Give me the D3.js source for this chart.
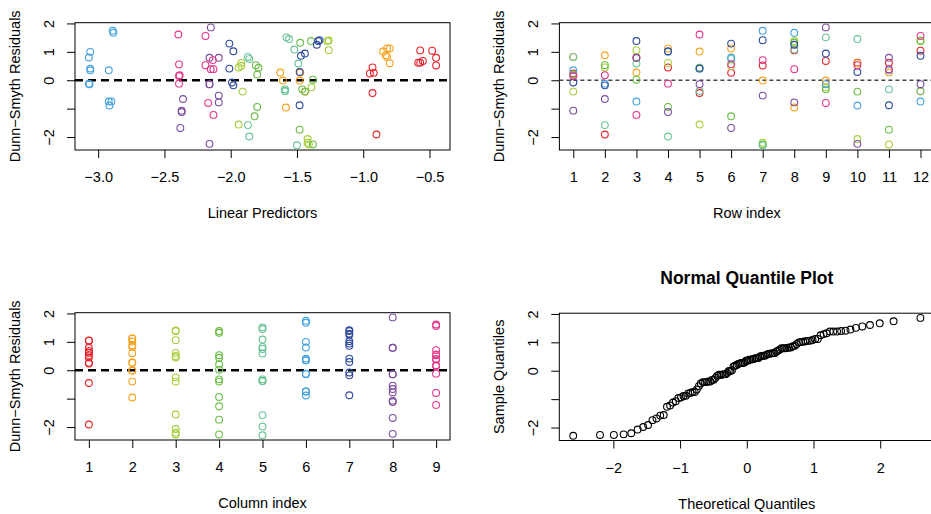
<!DOCTYPE html>
<html>
<head>
  <meta charset="utf-8">
  <title>Dunn-Smyth residual plots</title>
  <script src="https://d3js.org/d3.v7.min.js"></script>
  <style>
    body { margin: 0; background: #fff; }
    svg { font-family: "Liberation Sans", Arial, sans-serif; }
    .tick text { font-size: 14.5px; fill: #000; }
    .lab { font-size: 14.5px; }
  </style>
</head>
<body>
  <svg width="931" height="514"></svg>

  <script>
    // colours of the nine columns (species)
    const colours = ["#ea2229", "#f7a21d", "#a7ce39", "#6abd45", "#68c494",
                     "#45a2de", "#2f4a9d", "#7c4d9e", "#e6348b"];

    // Dunn-Smyth residuals, 12 rows x 9 columns
    const residuals = [
      [ 0.24,  0.82, -0.40,  0.20,  0.82,  0.35, -0.08, -1.07,  0.15],
      [-1.91,  0.88,  0.45,  0.53, -1.58, -0.12, -0.18, -0.66,  0.18],
      [ 0.79,  0.27,  1.06,  0.02,  0.59, -0.75,  1.38,  0.79, -1.22],
      [ 0.45,  1.12,  0.61, -0.94, -1.98,  1.00,  1.02, -1.12, -0.12],
      [-0.45,  1.01, -1.56,  0.44, -0.38,  0.41,  0.41, -0.14,  1.61],
      [ 0.26,  1.12,  0.50, -1.27,  0.75,  0.80,  1.29, -1.68,  0.56],
      [ 0.52, -0.01, -2.20, -2.26, -2.29,  1.74,  1.41, -0.54,  0.71],
      [ 1.05, -0.96,  1.38,  1.32,  1.08,  1.67,  1.25, -0.78,  0.39],
      [ 0.68, -0.01, -0.25, -0.32,  1.51, -0.14,  0.94,  1.86, -0.80],
      [ 0.62,  0.60, -2.07, -0.40,  1.45, -0.89,  0.29, -2.24,  0.53],
      [ 0.62,  0.27, -2.26, -1.74, -0.32,  0.35, -0.88,  0.79,  0.39],
      [ 1.04, -0.40,  1.40,  1.38, -0.38, -0.75,  0.86, -0.14,  1.56]
    ];

    // linear predictors, same layout
    const linPred = [
      [-0.95,  -0.82, -1.91, -1.80,  -1.87, -3.06,  -1.99, -2.37, -2.39],
      [-0.90,  -0.83, -1.94, -1.81,  -1.87, -3.07,  -1.98, -2.36, -2.385],
      [-0.45,  -1.626,-1.26, -1.38,  -1.49, -2.92,  -1.34, -2.16, -2.13],
      [-0.93,  -0.80, -1.92, -1.80,  -1.86, -3.06,  -1.98, -2.37, -2.39],
      [-0.93,  -0.85, -1.94, -1.79,  -1.59, -3.06,  -2.01, -2.16, -2.395],
      [-0.92,  -0.82, -1.92, -1.82,  -1.86, -3.07,  -2.01, -2.38, -2.39],
      [-0.45,  -1.606,-1.42, -1.38,  -1.50, -2.89,  -1.33, -2.09, -2.135],
      [-0.57,  -1.583,-1.27, -1.475, -1.52, -2.885, -1.35, -2.09, -2.15],
      [-0.55,  -1.48, -1.39, -1.46,  -1.58, -3.065, -1.44, -2.15, -2.17],
      [-0.585, -0.80, -1.42, -1.44,  -1.56, -2.915, -1.48, -2.16, -2.19],
      [-0.57,  -1.475,-1.41, -1.48,  -1.59, -2.92,  -1.48, -2.09, -2.13],
      [-0.48,  -1.437,-1.26, -1.394, -1.59, -2.90,  -1.47, -2.16, -2.19]
    ];

    const rowIndex = d3.range(1, 13);
    const colIndex = d3.range(1, 10);
    const yTicks = [-2, -1, 0, 1, 2];
    const lpTicks = [-3.0, -2.5, -2.0, -1.5, -1.0, -0.5];
    const qTicks = [-2, -1, 0, 1, 2];

    const svg = d3.select("svg");
    const pw = 375, ph = 127.3;

    // R style axis range: data extent plus 4% either side
    function rExpand(ext) {
      const d = (ext[1] - ext[0]) * 0.04;
      return [ext[0] - d, ext[1] + d];
    }

    // inverse normal cdf (Acklam)
    function qnorm(p) {
      const a = [-3.969683028665376e+01, 2.209460984245205e+02, -2.759285104469687e+02,
                 1.383577518672690e+02, -3.066479806614716e+01, 2.506628277459239e+00];
      const b = [-5.447609879822406e+01, 1.615858368580409e+02, -1.556989798598866e+02,
                 6.680131188771972e+01, -1.328068155288572e+01];
      const c = [-7.784894002430293e-03, -3.223964580411365e-01, -2.400758277161838e+00,
                 -2.549732539343734e+00, 4.374664141464968e+00, 2.938163982698783e+00];
      const d = [7.784695709041462e-03, 3.224671290700398e-01, 2.445134137142996e+00,
                 3.754408661907416e+00];
      const pl = 0.02425;
      let q, r;
      if (p < pl) {
        q = Math.sqrt(-2 * Math.log(p));
        return (((((c[0]*q+c[1])*q+c[2])*q+c[3])*q+c[4])*q+c[5]) /
               ((((d[0]*q+d[1])*q+d[2])*q+d[3])*q+1);
      }
      if (p <= 1 - pl) {
        q = p - 0.5; r = q * q;
        return (((((a[0]*r+a[1])*r+a[2])*r+a[3])*r+a[4])*r+a[5])*q /
               (((((b[0]*r+b[1])*r+b[2])*r+b[3])*r+b[4])*r+1);
      }
      q = Math.sqrt(-2 * Math.log(1 - p));
      return -(((((c[0]*q+c[1])*q+c[2])*q+c[3])*q+c[4])*q+c[5]) /
              ((((d[0]*q+d[1])*q+d[2])*q+d[3])*q+1);
    }

    // flatten cells
    const cells = [];
    colIndex.forEach((cj, j) => {
      rowIndex.forEach((ri, i) => {
        cells.push({ row: ri, col: cj, res: residuals[i][j], lp: linPred[i][j], colour: colours[j] });
      });
    });

    const allRes = cells.map(d => d.res);
    const yDomain = rExpand(d3.extent(allRes));

    function panel(o) {
      const g = svg.append("g").attr("transform", `translate(${o.left},${o.top})`);
      const x = d3.scaleLinear().domain(o.xDomain).range([0, pw]);
      const y = d3.scaleLinear().domain(o.yDomain).range([ph, 0]);

      const xa = g.append("g")
        .attr("transform", `translate(0,${ph})`)
        .call(d3.axisBottom(x).tickValues(o.xTicks).tickFormat(o.xFormat).tickSize(8).tickSizeOuter(0));
      xa.select(".domain").remove();
      xa.selectAll(".tick text").attr("y", 27).attr("dy", "0.35em");

      const ya = g.append("g")
        .call(d3.axisLeft(y).tickValues(yTicks)
          .tickFormat(v => v === -1 ? "" : d3.format("d")(v)).tickSize(8).tickSizeOuter(0));
      ya.select(".domain").remove();
      ya.selectAll(".tick text")
        .attr("x", null).attr("dy", "0.35em")
        .attr("text-anchor", "middle")
        .attr("transform", "translate(-26,0) rotate(-90)");

      g.append("rect")
        .attr("width", pw).attr("height", ph)
        .attr("fill", "none").attr("stroke", "#000").attr("stroke-width", 1);

      if (o.zeroLine) {
        g.append("line")
          .attr("x1", 0).attr("x2", pw)
          .attr("y1", y(0)).attr("y2", y(0))
          .attr("stroke", o.zeroLine.colour)
          .attr("stroke-width", o.zeroLine.width)
          .attr("stroke-dasharray", o.zeroLine.dash);
      }

      g.append("g").selectAll("circle")
        .data(o.points)
        .join("circle")
        .attr("cx", d => x(d[0]))
        .attr("cy", d => y(d[1]))
        .attr("r", 3.4)
        .attr("fill", "none")
        .attr("stroke", d => d[2])
        .attr("stroke-width", 1.1);

      g.append("text").attr("class", "lab")
        .attr("x", pw / 2).attr("y", ph + 63).attr("dy", "0.35em")
        .attr("text-anchor", "middle").text(o.xLabel);

      g.append("text").attr("class", "lab")
        .attr("transform", `translate(-60,${ph / 2}) rotate(-90)`)
        .attr("dy", "0.35em").attr("text-anchor", "middle").text(o.yLabel);

      if (o.title) {
        g.append("text")
          .attr("x", pw / 2).attr("y", -35).attr("dy", "0.35em")
          .attr("text-anchor", "middle")
          .attr("font-size", "17.5px").attr("font-weight", "bold")
          .text(o.title);
      }
    }

    // Linear predictors
    panel({
      left: 75, top: 22.7,
      xDomain: rExpand(d3.extent(cells, d => d.lp)), yDomain,
      xTicks: lpTicks, xFormat: d3.format(".1f"),
      points: cells.map(d => [d.lp, d.res, d.colour]),
      zeroLine: { colour: "#000", width: 2.4, dash: "8,5" },
      xLabel: "Linear Predictors", yLabel: "Dunn\u2212Smyth Residuals"
    });

    // Row index
    panel({
      left: 559.4, top: 22.7,
      xDomain: rExpand(d3.extent(rowIndex)), yDomain,
      xTicks: rowIndex, xFormat: d3.format("d"),
      points: cells.map(d => [d.row, d.res, d.colour]),
      zeroLine: { colour: "#444", width: 1.3, dash: "4,3" },
      xLabel: "Row index", yLabel: "Dunn\u2212Smyth Residuals"
    });

    // Column index
    panel({
      left: 75, top: 312.7,
      xDomain: rExpand(d3.extent(colIndex)), yDomain,
      xTicks: colIndex, xFormat: d3.format("d"),
      points: cells.map(d => [d.col, d.res, d.colour]),
      zeroLine: { colour: "#000", width: 2.4, dash: "8,5" },
      xLabel: "Column index", yLabel: "Dunn\u2212Smyth Residuals"
    });

    // Normal quantile plot
    const sorted = allRes.slice().sort(d3.ascending);
    const n = sorted.length;
    const theo = sorted.map((v, i) => qnorm((i + 1 - 0.5) / n));
    panel({
      left: 559.3, top: 313.2,
      xDomain: rExpand(d3.extent(theo)), yDomain: rExpand(d3.extent(sorted)),
      xTicks: qTicks, xFormat: d3.format("d"),
      points: sorted.map((v, i) => [theo[i], v, "#000"]),
      xLabel: "Theoretical Quantiles", yLabel: "Sample Quantiles",
      title: "Normal Quantile Plot"
    });
  </script>
</body>
</html>
